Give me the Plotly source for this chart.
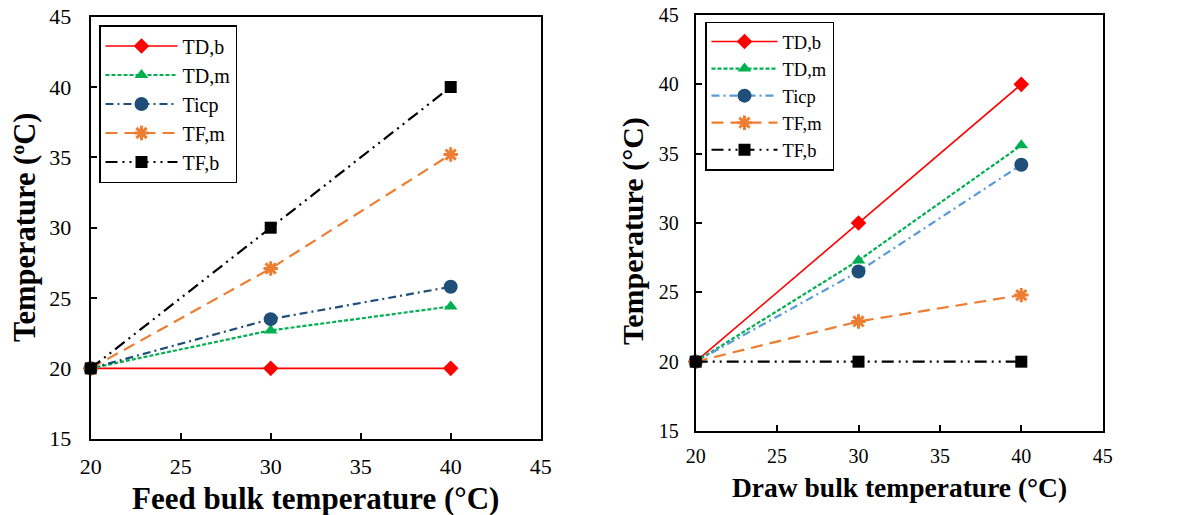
import plotly.graph_objects as go

# ---- data ----
x_feed = [20, 30, 40]
feed_TDb = [20, 20, 20]
feed_TDm = [20, 22.7, 24.4]
feed_Ticp = [20, 23.5, 25.8]
feed_TFm = [20, 27.1, 35.2]
feed_TFb = [20, 30, 40]

x_draw = [20, 30, 40]
draw_TDb = [20, 30, 40]
draw_TDm = [20, 27.3, 35.6]
draw_Ticp = [20, 26.5, 34.2]
draw_TFm = [20, 22.9, 24.8]
draw_TFb = [20, 20, 20]

names = ["TD,b", "TD,m", "Ticp", "TF,m", "TF,b"]
ticks = [20, 25, 30, 35, 40, 45]
yticks = [15, 20, 25, 30, 35, 40, 45]

SERIF = "Liberation Serif"
W, H = 1189, 515

styles = [
    dict(line=dict(color="#FF0000", width=1.6, dash="solid"),
         marker=dict(symbol="diamond", size=12, color="#FF0000")),
    dict(line=dict(color="#00B050", width=2.2, dash="4px,2px"),
         marker=dict(symbol="triangle-up", size=12, color="#00B050")),
    dict(line=dict(color="#1F4E79", width=2.2, dash="8px,4px,2px,4px"),
         marker=dict(symbol="circle", size=14, color="#1F4E79")),
    dict(line=dict(color="#ED7D31", width=2.2, dash="12px,7px"),
         marker=dict(symbol="asterisk-open", size=12, color="#ED7D31",
                     line=dict(color="#ED7D31", width=3))),
    dict(line=dict(color="#000000", width=2.2, dash="12px,5px,2px,5px,2px,5px"),
         marker=dict(symbol="square", size=12, color="#000000")),
]

fig = go.Figure()
feed_series = [feed_TDb, feed_TDm, feed_Ticp, feed_TFm, feed_TFb]
draw_series = [draw_TDb, draw_TDm, draw_Ticp, draw_TFm, draw_TFb]

for i, (nm, ys) in enumerate(zip(names, feed_series)):
    st = styles[i]
    fig.add_trace(go.Scatter(x=x_feed, y=ys, name=nm, mode="lines+markers",
                             line=st["line"], marker=st["marker"], cliponaxis=False,
                             xaxis="x", yaxis="y", legend="legend",
                             legendgroup=f"L{i}"))

for i, (nm, ys) in enumerate(zip(names, draw_series)):
    st = dict(styles[i])
    line = dict(st["line"])
    if nm == "Ticp":
        line["color"] = "#5B9BD5"
    fig.add_trace(go.Scatter(x=x_draw, y=ys, name=nm, mode="lines+markers",
                             line=line, marker=st["marker"], cliponaxis=False,
                             xaxis="x2", yaxis="y2", legend="legend2",
                             legendgroup=f"R{i}"))

axis_common = dict(showgrid=False, zeroline=False, showline=True, mirror=True,
                   linecolor="black", linewidth=2, ticks="inside", ticklen=6,
                   tickwidth=1.5, tickcolor="black", automargin=False)
left_tf = dict(family=SERIF, size=22, color="black")
right_tf = dict(family=SERIF, size=20, color="black")

fig.update_layout(
    width=W, height=H,
    margin=dict(l=0, r=0, t=0, b=0),
    paper_bgcolor="white", plot_bgcolor="white",
    xaxis=dict(domain=[90.7 / W, 540.7 / W], range=[20, 45], tickvals=ticks,
               anchor="y", ticklabelstandoff=7, tickfont=left_tf, **axis_common),
    yaxis=dict(domain=[1 - 438.7 / H, 1 - 16.7 / H], range=[15, 45], tickvals=yticks,
               anchor="x", ticklabelstandoff=13, tickfont=left_tf, **axis_common),
    xaxis2=dict(domain=[695.7 / W, 1102.7 / W], range=[20, 45], tickvals=ticks,
                anchor="y2", ticklabelstandoff=6, tickfont=right_tf, **axis_common),
    yaxis2=dict(domain=[1 - 431 / H, 1 - 15 / H], range=[15, 45], tickvals=yticks,
                anchor="x2", ticklabelstandoff=11, tickfont=right_tf, **axis_common),
    legend=dict(x=99 / W, y=1 - 25 / H, xanchor="left", yanchor="top",
                bgcolor="white", bordercolor="black", borderwidth=1.5,
                font=dict(family=SERIF, size=20, color="black"),
                itemwidth=72, tracegroupgap=0, entrywidth=66),
    legend2=dict(x=705 / W, y=1 - 21.5 / H, xanchor="left", yanchor="top",
                 bgcolor="white", bordercolor="black", borderwidth=1.5,
                 font=dict(family=SERIF, size=18.5, color="black"),
                 itemwidth=66, tracegroupgap=0, entrywidth=56),
    showlegend=True,
)

fig.add_annotation(text="<b>Feed bulk temperature (°C)</b>", x=315.7 / W, y=1 - 498 / H,
                   xref="paper", yref="paper", showarrow=False,
                   font=dict(family=SERIF, size=31, color="black"),
                   xanchor="center", yanchor="middle")
fig.add_annotation(text="<b>Draw bulk temperature (°C)</b>", x=899 / W, y=1 - 487 / H,
                   xref="paper", yref="paper", showarrow=False,
                   font=dict(family=SERIF, size=27.5, color="black"),
                   xanchor="center", yanchor="middle")
fig.add_annotation(text="<b>Temperature (ºC)</b>", x=24.5 / W, y=1 - 227.5 / H,
                   xref="paper", yref="paper", showarrow=False,
                   font=dict(family=SERIF, size=30.5, color="black"),
                   textangle=-90, xanchor="center", yanchor="middle")
fig.add_annotation(text="<b>Temperature (°C)</b>", x=633 / W, y=1 - 231 / H,
                   xref="paper", yref="paper", showarrow=False,
                   font=dict(family=SERIF, size=30, color="black"),
                   textangle=-90, xanchor="center", yanchor="middle")

fig.write_html("out.html")
